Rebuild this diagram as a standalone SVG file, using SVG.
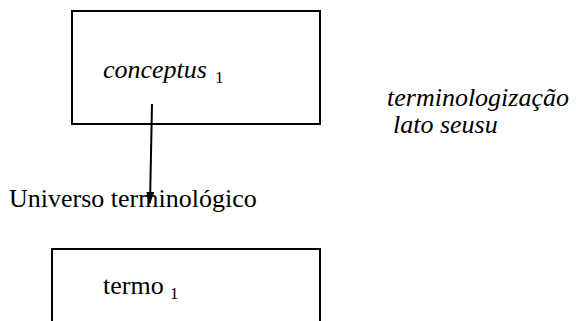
<svg xmlns="http://www.w3.org/2000/svg" width="576" height="321" viewBox="0 0 576 321">
<style>
.box{fill:#fff;stroke:#000;stroke-width:2}
.t{font-family:'Times New Roman','Liberation Serif',Times,'DejaVu Serif',serif;font-size:26px;fill:#000}
.i{font-style:italic}
.sub{font-family:'Times New Roman','Liberation Serif',Times,'DejaVu Serif',serif;font-size:17px;fill:#000}
.conn{stroke:#000;stroke-width:2;fill:none}
</style>
<defs>
<marker id="arr" markerWidth="12" markerHeight="8" refX="11" refY="4" orient="auto" markerUnits="userSpaceOnUse">
<path d="M0,0 L12,4 L0,8 Z" fill="#000"/>
</marker>
</defs>
<rect width="576" height="321" fill="#fff"/>
<g id="node-conceptus">
<rect class="box" x="72" y="11" width="248" height="113"/>
<text class="t i" x="103" y="78">conceptus</text>
<text class="sub" x="215" y="83">1</text>
</g>
<g id="node-termo">
<rect class="box" x="52" y="249" width="268" height="90"/>
<text class="t" x="103" y="294">termo</text>
<text class="sub" x="170" y="299">1</text>
</g>
<g id="label-universo">
<text class="t" x="9" y="207">Universo terminológico</text>
</g>
<g id="label-terminologizacao">
<text class="t i" x="387" y="106">terminologização</text>
<text class="t i" x="393" y="133">lato seusu</text>
</g>
<g id="connectors">
<line class="conn" x1="152" y1="104" x2="150" y2="203" marker-end="url(#arr)"/>
</g>
</svg>
